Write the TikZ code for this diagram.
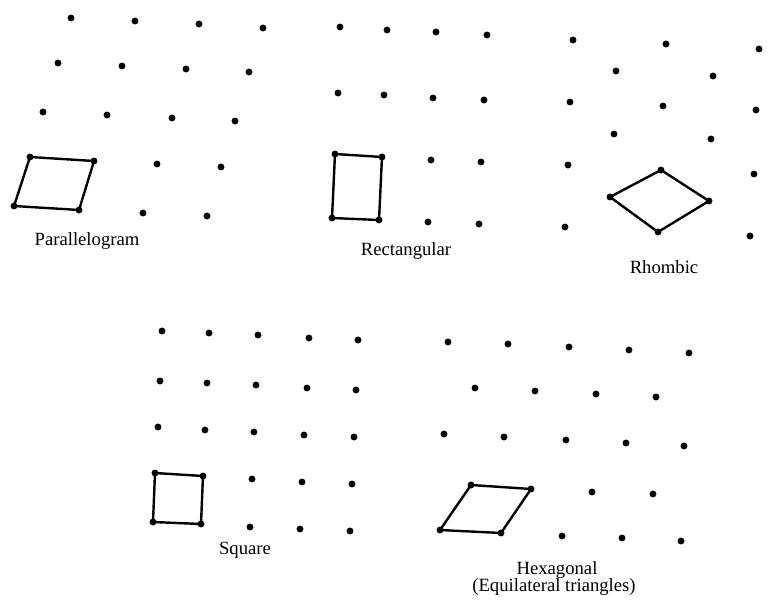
\documentclass[tikz,border=0pt]{standalone}
\usepackage{fontspec}
\setmainfont{Liberation Serif}
\begin{document}
\begin{tikzpicture}[x=0.75pt,y=-0.75pt,
  dot/.style={circle,fill=black,inner sep=0pt,minimum size=5.2pt},
  cell/.style={line width=1.8pt,line join=round},
  lbl/.style={font=\fontsize{14pt}{16pt}\selectfont,inner sep=0pt}]
\useasboundingbox (0,0) rectangle (768,613);
% Parallelogram lattice
\foreach \x/\y [count=\i] in {71/18,135/21,199/24,263/28,58/63,122/66,186/69,249/72,43/112,107/115,172/118,235/121,30/157,94/161,157/164,221/167,14/206,79/210,143/213,207/216}
  \node[dot] (p\i) at (\x,\y) {};
\draw[cell] (p13.center) -- (p14.center) -- (p18.center) -- (p17.center) -- cycle;
\node[lbl] (lp) at (87,241) {Parallelogram};
% Rectangular lattice
\foreach \x/\y [count=\i] in {340/27,387/30,436/32,487/35,338/93,384/95,433/98,484/100,335/154,382/157,431/160,481/162,332/218,379/220,428/222,479/224}
  \node[dot] (r\i) at (\x,\y) {};
\draw[cell] (r9.center) -- (r10.center) -- (r14.center) -- (r13.center) -- cycle;
\node[lbl] (lr) at (406,251) {Rectangular};
% Rhombic lattice
\foreach \x/\y [count=\i] in {573/40,666/44,759/49,616/71,713/76,570/102,663/106,756/110,614/134,711/139,568/165,661/170,754/174,610/197,709/201,565/227,658/232,750/236}
  \node[dot] (h\i) at (\x,\y) {};
\draw[cell] (h12.center) -- (h15.center) -- (h17.center) -- (h14.center) -- cycle;
\node[lbl] (lh) at (664,267) {Rhombic};
% Square lattice
\foreach \x/\y [count=\i] in {162/331,209/333,258/335,309/338,358/340,160/381,207/383,256/385,307/388,356/390,158/427,205/430,254/432,304/435,354/437,155/473,203/476,252/479,302/482,352/484,153/522,201/524,250/527,300/529,350/531}
  \node[dot] (s\i) at (\x,\y) {};
\draw[cell] (s16.center) -- (s17.center) -- (s22.center) -- (s21.center) -- cycle;
\node[lbl] (ls) at (245,550) {Square};
% Hexagonal lattice
\foreach \x/\y [count=\i] in {448/342,508/344,569/347,629/350,689/353,475/388,535/391,596/394,656/397,444/434,504/437,566/440,626/443,684/446,471/485,531/489,592/492,653/494,440/530,501/533,562/536,622/538,681/541}
  \node[dot] (x\i) at (\x,\y) {};
\draw[cell] (x15.center) -- (x16.center) -- (x20.center) -- (x19.center) -- cycle;
\node[lbl] (lx1) at (557,570) {Hexagonal};
\node[lbl] (lx2) at (554,587) {(Equilateral triangles)};
\end{tikzpicture}
\end{document}
